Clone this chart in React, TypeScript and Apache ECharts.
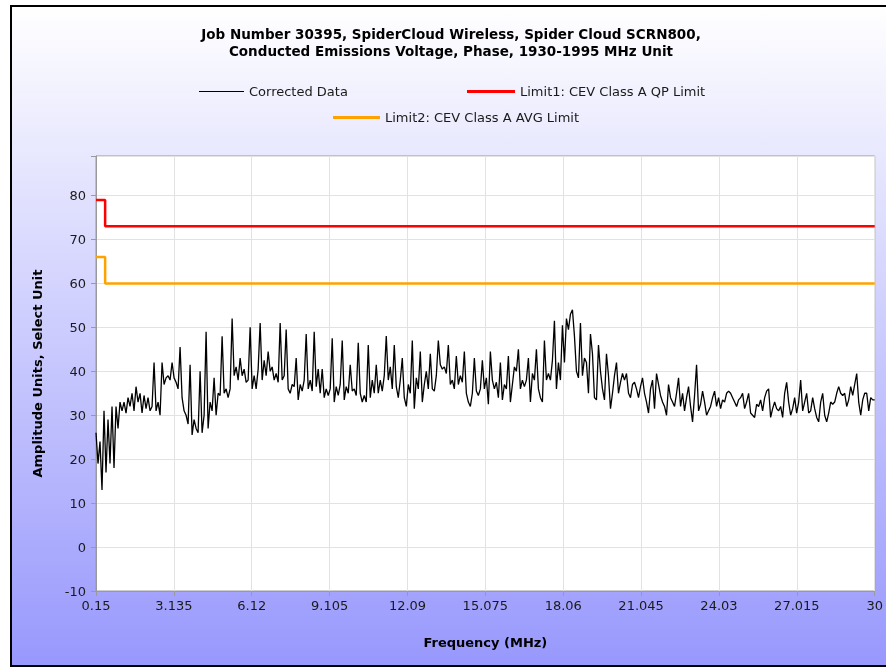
import React, { useEffect, useRef } from "react";
import * as echarts from "echarts";

// Sweep of the analyser: evenly spaced frequency points (MHz)
const FREQ_START = 0.15;
const FREQ_STOP = 30;

// Corrected Data amplitudes (dBuV), in sweep order
const SEG_A = [
  26, 19, 24, 13, 31, 17, 29, 19, 32, 18,
  32, 27, 33, 31, 33, 30.5, 34, 32, 35, 31,
  36.5, 33, 35, 30.5, 34.5, 31.5, 34, 31, 32, 42,
  31, 33, 30, 42, 37, 38.5, 39, 38, 42, 38.5,
  37.5, 36, 45.5, 34, 31, 30, 28, 41.5, 25.5, 29,
  27, 26, 40, 26, 30, 49, 27, 33, 31, 38.5,
  30, 35, 34.5, 48, 35, 36, 34, 36, 52, 39,
  41, 38, 43, 39, 40.5, 37.5, 38, 50, 36, 39,
  36, 40.5, 51, 38, 42.5, 39, 44.5, 40, 41, 38,
  39.5, 37.5, 51, 38, 39, 49.5, 36, 35, 37, 36.5,
];
const SEG_B = [
  43, 33.5, 37, 35.5, 38, 48.5, 36, 38, 35.5, 49,
  36.5, 40.5, 35, 40.5, 34, 36, 34.5, 36, 47.5, 33,
  36.5, 34.5, 37, 47, 33.5, 36.5, 35, 41.5, 35.5, 36,
  34.5, 46.5, 35, 33, 34.5, 33, 46, 34, 38, 35,
  41.5, 35, 38, 35.5, 39, 48, 38, 41, 36, 46,
  36.5, 34, 38, 43, 34, 32, 37, 35, 47, 31.5,
  38.5, 36, 44.5, 33, 37, 40, 36, 44, 36, 35.5,
  39, 47, 41.5, 40.5, 41, 39.5, 46, 37, 38, 36,
  43.5, 37, 39, 37.5, 44.5, 35, 33, 32, 35, 43,
  35.5, 34.5, 36, 42.5, 36, 38.5,
];
const SEG_C = [
  32.5, 44.5, 38, 36, 37.5, 34, 42, 33.5, 37, 36,
  43.5, 33, 37, 41, 40, 45, 36, 38, 36.5, 38,
  43, 33, 39.5, 38, 45, 36, 34, 33, 47, 38,
  39.5, 38, 42.5, 51.5, 36, 42, 38, 50.5, 42, 52,
  49.5, 53, 54, 48, 40, 38.5, 51, 39, 43, 42,
  35, 48.5, 44, 34, 33.5, 46, 40, 36, 33.5, 44,
  39, 31.5, 35, 39, 42, 35, 37.5, 39.5, 38, 39.5,
  35, 34, 37, 37.5, 36, 34, 36.5, 38.5, 35, 33,
  30.5, 36, 38, 31.5, 39.5, 37, 34.5, 33, 32, 30,
  37, 34, 33, 32, 35, 38.5, 32, 35, 31,
];
const SEG_D = [
  34, 36.5, 32, 28.5, 34.5, 41.5, 31, 32.5, 35.5, 33,
  30, 31, 32, 34, 35.5, 32, 34, 31.5, 33.5, 33,
  35, 35.5, 35, 34, 33, 32, 33.5, 34, 35, 31.5,
  33, 35, 30.5, 30, 29.5, 32.5, 32, 33.5, 31, 34,
  35.5, 36, 29.5, 31.5, 33, 31.5, 31, 32, 29.5, 35,
  37.5, 33, 30, 31.5, 34, 30.5, 33, 38, 31, 33,
  35, 30.5, 31, 34, 31.5, 29.5, 28.5, 33, 35, 30,
  28.5, 30.5, 33, 32.5, 33, 35, 36.5, 35, 34.5, 35,
  32, 33.5, 36.5, 34.5, 37, 39.5, 33, 30, 33.5, 35,
  35, 31, 34, 33.5, 33.5,
];
const CORRECTED = [...SEG_A, ...SEG_B, ...SEG_C, ...SEG_D];

// Limit lines (frequency MHz, level)
const LIMIT1_QP = [
  [0.15, 79],
  [0.5, 79],
  [0.5, 73],
  [30, 73],
];
const LIMIT2_AVG = [
  [0.15, 66],
  [0.5, 66],
  [0.5, 60],
  [30, 60],
];

const X_TICK_LABELS = [
  "0.15", "3.135", "6.12", "9.105", "12.09", "15.075",
  "18.06", "21.045", "24.03", "27.015", "30",
];

const SERIES_NAMES = [
  "Corrected Data",
  "Limit1: CEV Class A QP Limit",
  "Limit2: CEV Class A AVG Limit",
];

const TITLE =
  "Job Number 30395, SpiderCloud Wireless, Spider Cloud SCRN800,\nConducted Emissions Voltage, Phase, 1930-1995 MHz Unit";

const FONT = "DejaVu Sans";

export default function App() {
  const ref = useRef<HTMLDivElement>(null);

  useEffect(() => {
    if (!ref.current) return;
    const chart = echarts.init(ref.current, null, { renderer: "svg" });
    const n = CORRECTED.length;
    const step = (FREQ_STOP - FREQ_START) / (n - 1);
    const corrected = CORRECTED.map((v, i) => [FREQ_START + i * step, v]);

    const legendText = { fontFamily: FONT, fontSize: 13, color: "#1a1a1a" };

    chart.setOption({
      animation: false,
      graphic: [
        {
          type: "rect",
          z: -10,
          silent: true,
          shape: { x: 11, y: 6, width: 890, height: 660 },
          style: {
            fill: new echarts.graphic.LinearGradient(0, 0, 0, 1, [
              { offset: 0, color: "#ffffff" },
              { offset: 1, color: "#9898fd" },
            ]),
          },
        },
        {
          type: "line",
          z: -9,
          silent: true,
          shape: { x1: 11, y1: 5, x2: 11, y2: 667 },
          style: { stroke: "#000000", lineWidth: 2 },
        },
        {
          type: "line",
          z: -9,
          silent: true,
          shape: { x1: 10, y1: 6, x2: 900, y2: 6 },
          style: { stroke: "#000000", lineWidth: 2 },
        },
        {
          type: "line",
          z: -9,
          silent: true,
          shape: { x1: 10, y1: 666, x2: 900, y2: 666 },
          style: { stroke: "#000000", lineWidth: 2 },
        },
      ],
      title: {
        text: TITLE,
        left: 451,
        top: 25,
        padding: 0,
        textAlign: "center",
        textStyle: {
          fontFamily: FONT,
          fontWeight: "bold",
          fontSize: 13.5,
          lineHeight: 17,
          color: "#000",
        },
      },
      legend: [
        {
          data: [SERIES_NAMES[0]],
          left: 194,
          top: 80,
          icon: "rect",
          itemWidth: 45,
          itemHeight: 1,
          textStyle: legendText,
        },
        {
          data: [SERIES_NAMES[1]],
          left: 462,
          top: 80,
          icon: "rect",
          itemWidth: 48,
          itemHeight: 3,
          textStyle: legendText,
        },
        {
          data: [SERIES_NAMES[2]],
          left: 328,
          top: 106,
          icon: "rect",
          itemWidth: 47,
          itemHeight: 3,
          textStyle: legendText,
        },
      ],
      grid: {
        left: 96,
        top: 156,
        right: 11,
        bottom: 78,
        show: true,
        backgroundColor: "#ffffff",
        borderColor: "#9a9a9a",
        borderWidth: 1,
      },
      xAxis: [
        {
          type: "value",
          min: FREQ_START,
          max: FREQ_STOP,
          show: false,
        },
        {
          type: "value",
          min: 0,
          max: X_TICK_LABELS.length - 1,
          interval: 1,
          position: "bottom",
          axisLine: { show: true, lineStyle: { color: "#9a9a9a" } },
          axisTick: { show: true, length: 5, lineStyle: { color: "#9a9a9a" } },
          axisLabel: {
            formatter: (v: number) => X_TICK_LABELS[Math.round(v)] ?? "",
            fontFamily: FONT,
            fontSize: 13,
            color: "#1a1a1a",
            margin: 8,
          },
          splitLine: { show: true, lineStyle: { color: "#e2e2e2" } },
          name: "Frequency (MHz)",
          nameLocation: "middle",
          nameGap: 45,
          nameTextStyle: {
            fontFamily: FONT,
            fontWeight: "bold",
            fontSize: 13,
            color: "#000",
          },
        },
      ],
      yAxis: {
        type: "value",
        min: -10,
        max: 89,
        interval: 10,
        axisLine: { show: true, lineStyle: { color: "#9a9a9a" } },
        axisTick: { show: true, length: 5, lineStyle: { color: "#9a9a9a" } },
        axisLabel: {
          formatter: (v: number) => (v > 80 ? "" : String(v)),
          fontFamily: FONT,
          fontSize: 13,
          color: "#1a1a1a",
          margin: 10,
        },
        splitLine: { show: true, lineStyle: { color: "#e2e2e2" } },
        name: "Amplitude Units, Select Unit",
        nameLocation: "middle",
        nameGap: 52,
        nameTextStyle: {
          fontFamily: FONT,
          fontWeight: "bold",
          fontSize: 13,
          color: "#000",
        },
      },
      series: [
        {
          name: SERIES_NAMES[0],
          type: "line",
          xAxisIndex: 0,
          data: corrected,
          showSymbol: false,
          color: "#000000",
          lineStyle: { color: "#000000", width: 1.3 },
          z: 3,
        },
        {
          name: SERIES_NAMES[1],
          type: "line",
          xAxisIndex: 0,
          data: LIMIT1_QP,
          showSymbol: false,
          color: "#ff0000",
          lineStyle: { color: "#ff0000", width: 2.5 },
          z: 2,
        },
        {
          name: SERIES_NAMES[2],
          type: "line",
          xAxisIndex: 0,
          data: LIMIT2_AVG,
          showSymbol: false,
          color: "#ffa200",
          lineStyle: { color: "#ffa200", width: 2.5 },
          z: 2,
        },
      ],
    });

    return () => chart.dispose();
  }, []);

  return (
    <div
      ref={ref}
      style={{ position: "fixed", left: 0, top: 0, width: 886, height: 669 }}
    />
  );
}
